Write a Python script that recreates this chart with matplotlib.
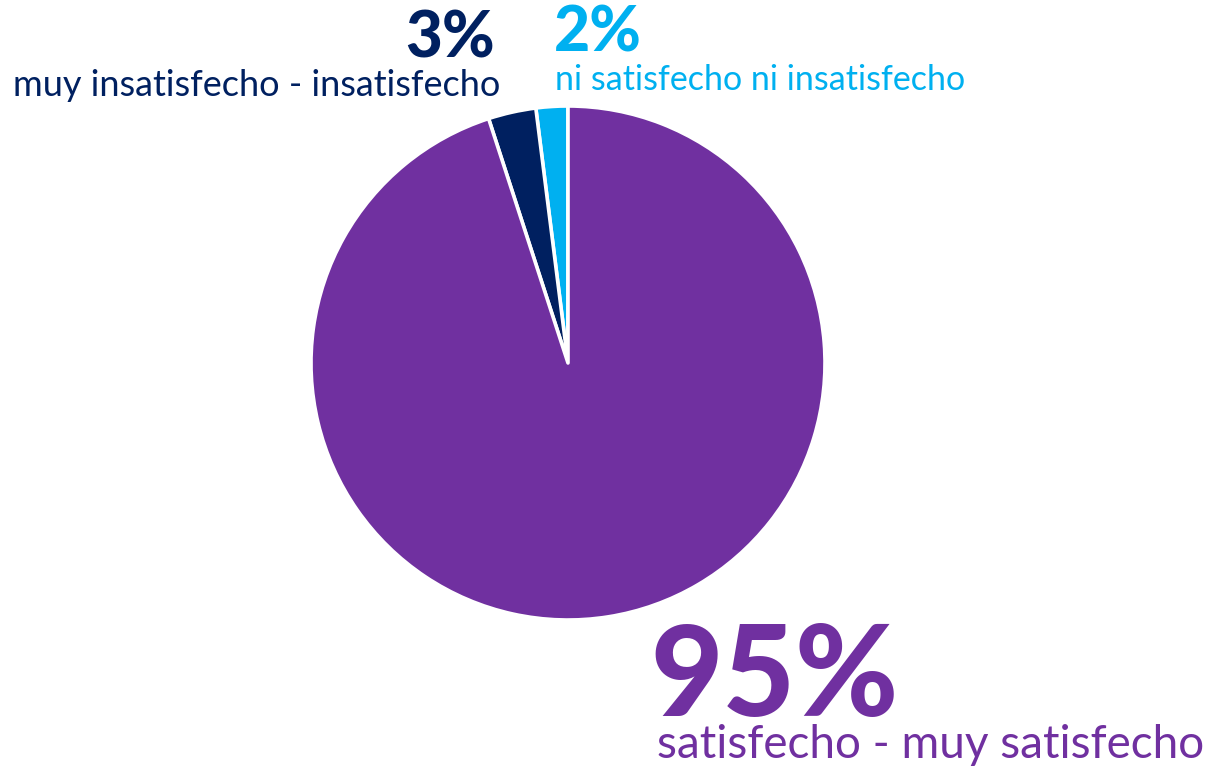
import matplotlib
matplotlib.use("Agg")
import matplotlib.pyplot as plt

# Data
categories = ["ni satisfecho ni insatisfecho", "muy insatisfecho - insatisfecho", "satisfecho - muy satisfecho"]
values = [2, 3, 95]
pct_labels = ["2%", "3%", "95%"]
colors = ["#00B0F0", "#002060", "#7030A0"]

W, H = 1216, 767
fig = plt.figure(figsize=(W / 100, H / 100), dpi=100)
ax = fig.add_axes([0, 0, 1, 1])

ax.pie(values, colors=colors, startangle=90, counterclock=True,
       center=(568, H - 363), radius=257,
       wedgeprops=dict(edgecolor="white", linewidth=2.6, joinstyle="round"))
ax.set_xlim(0, W)
ax.set_ylim(0, H)
ax.set_aspect("equal")
ax.axis("off")

fam = ["Lato", "DejaVu Sans"]

# 2% label (top right of top)
ax.text(554, H - 52, pct_labels[0], color=colors[0], fontsize=45, fontweight="black",
        family=fam, ha="left", va="baseline")
ax.text(555, H - 90, categories[0], color=colors[0], fontsize=24.5,
        family=fam, ha="left", va="baseline")

# 3% label (top left)
ax.text(495, H - 58, pct_labels[1], color=colors[1], fontsize=46, fontweight="black",
        family=fam, ha="right", va="baseline")
ax.text(500, H - 96, categories[1], color=colors[1], fontsize=26,
        family=fam, ha="right", va="baseline")

# 95% label (bottom right)
ax.text(650, H - 716, pct_labels[2], color=colors[2], fontsize=90, fontweight="black",
        family=fam, ha="left", va="baseline")
ax.text(657, H - 758, categories[2], color=colors[2], fontsize=33,
        family=fam, ha="left", va="baseline")

fig.savefig("out.png", dpi=100, facecolor="white")
